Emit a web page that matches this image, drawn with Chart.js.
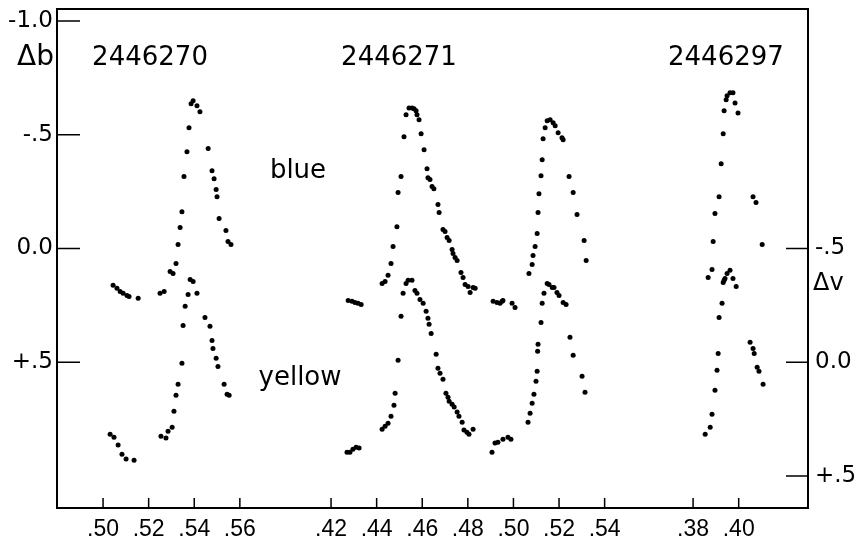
<!DOCTYPE html>
<html>
<head>
<meta charset="utf-8">
<script src="https://cdn.jsdelivr.net/npm/chart.js@4.4.1/dist/chart.umd.min.js"></script>
<style>
  html, body { margin: 0; padding: 0; background: #fff; }
  #wrap { width: 854px; height: 544px; position: relative; }
</style>
</head>
<body>
<div id="wrap"><canvas id="lightCurve"></canvas></div>
<script>
// nights (JD) and the phase ticks shown under each one
const nights = ['2446270', '2446271', '2446297'];
const nightTicks = [
    [0.50, 0.52, 0.54, 0.56],
    [0.42, 0.44, 0.46, 0.48, 0.50, 0.52, 0.54],
    [0.38, 0.40]
];
// shift that puts each night side by side on the broken x axis
const nightShift = [0, 0.18, 0.3788];

// left axis: delta b, right axis: delta v
const bTicks = [-1.0, -0.5, 0.0, 0.5];
const bTickLabels = ['-1.0', '-.5', '0.0', '+.5'];
const vTicks = [-0.5, 0.0, 0.5];
const vTickLabels = ['-.5', '0.0', '+.5'];

// night 2446270
const blue1Time = [0.5044, 0.5061, 0.5075, 0.5088, 0.5105, 0.5114, 0.5154, 0.5250, 0.5268, 0.5294, 0.5307,
    0.5320, 0.5329, 0.5338, 0.5346, 0.5355, 0.5368, 0.5377, 0.5386, 0.5395, 0.5412, 0.5425, 0.5461, 0.5478,
    0.5487, 0.5496, 0.5500, 0.5509, 0.5539, 0.5548, 0.5561];
const blue1Mag = [0.162, 0.175, 0.189, 0.197, 0.206, 0.211, 0.219, 0.197, 0.189, 0.101, 0.110,
    0.066, -0.018, -0.092, -0.162, -0.316, -0.425, -0.531, -0.636, -0.649, -0.627, -0.601, -0.439, -0.342,
    -0.307, -0.259, -0.228, -0.132, -0.079, -0.031, -0.018];
const yellow1Time = [0.5031, 0.5048, 0.5066, 0.5083, 0.5101, 0.5136, 0.5254, 0.5276, 0.5285, 0.5303, 0.5311,
    0.5320, 0.5329, 0.5346, 0.5351, 0.5360, 0.5373, 0.5382, 0.5395, 0.5412, 0.5447, 0.5469, 0.5478, 0.5482,
    0.5496, 0.5504, 0.5531, 0.5544, 0.5553];
const yellow1Mag = [0.316, 0.329, 0.364, 0.404, 0.425, 0.430, 0.325, 0.333, 0.303, 0.285, 0.215,
    0.145, 0.096, 0.004, -0.162, -0.246, -0.298, -0.364, -0.355, -0.303, -0.197, -0.158, -0.096, -0.061,
    -0.018, 0.018, 0.096, 0.140, 0.145];

// night 2446271
const blue2Time = [0.4275, 0.4292, 0.4305, 0.4318, 0.4332, 0.4424, 0.4437, 0.4450, 0.4463, 0.4472, 0.4489,
    0.4494, 0.4507, 0.4520, 0.4529, 0.4542, 0.4555, 0.4564, 0.4573, 0.4577, 0.4586, 0.4595, 0.4608, 0.4621,
    0.4625, 0.4634, 0.4643, 0.4651, 0.4669, 0.4674, 0.4691, 0.4700, 0.4709, 0.4718, 0.4731, 0.4735, 0.4744,
    0.4753, 0.4770, 0.4779, 0.4788, 0.4801, 0.4810, 0.4823, 0.4832, 0.4911, 0.4928, 0.4941, 0.4950, 0.4954,
    0.4994, 0.5007, 0.5068, 0.5082, 0.5086, 0.5095, 0.5104, 0.5108, 0.5112, 0.5121, 0.5126, 0.5130, 0.5139,
    0.5148, 0.5161, 0.5174, 0.5183, 0.5196, 0.5213, 0.5218, 0.5244, 0.5262, 0.5279, 0.5310, 0.5319];
const blue2Mag = [0.228, 0.232, 0.237, 0.241, 0.246, 0.154, 0.145, 0.118, 0.066, -0.009, -0.096,
    -0.246, -0.316, -0.491, -0.588, -0.618, -0.618, -0.614, -0.605, -0.588, -0.566, -0.504, -0.434, -0.351,
    -0.311, -0.303, -0.272, -0.263, -0.193, -0.158, -0.083, -0.075, -0.048, -0.035, 0.004, 0.022, 0.039,
    0.053, 0.105, 0.127, 0.158, 0.167, 0.193, 0.171, 0.175, 0.232, 0.237, 0.241, 0.232, 0.228,
    0.241, 0.259, 0.110, 0.070, 0.031, -0.009, -0.066, -0.158, -0.241, -0.320, -0.390, -0.482, -0.531,
    -0.561, -0.566, -0.553, -0.539, -0.509, -0.487, -0.478, -0.316, -0.246, -0.149, -0.035, 0.053];
const yellow2Time = [0.4270, 0.4283, 0.4296, 0.4310, 0.4323, 0.4424, 0.4437, 0.4450, 0.4463, 0.4476, 0.4481,
    0.4494, 0.4507, 0.4516, 0.4529, 0.4538, 0.4555, 0.4568, 0.4577, 0.4590, 0.4604, 0.4617, 0.4625, 0.4630,
    0.4639, 0.4661, 0.4669, 0.4678, 0.4691, 0.4704, 0.4713, 0.4718, 0.4731, 0.4740, 0.4753, 0.4761, 0.4775,
    0.4783, 0.4796, 0.4805, 0.4823, 0.4906, 0.4919, 0.4932, 0.4954, 0.4976, 0.4989, 0.5064, 0.5073, 0.5082,
    0.5090, 0.5099, 0.5104, 0.5106, 0.5108, 0.5121, 0.5126, 0.5134, 0.5148, 0.5156, 0.5170, 0.5178, 0.5191,
    0.5200, 0.5218, 0.5231, 0.5248, 0.5262, 0.5301, 0.5314];
const yellow2Mag = [0.395, 0.395, 0.382, 0.373, 0.377, 0.294, 0.281, 0.268, 0.237, 0.189, 0.136,
    -0.009, -0.202, -0.303, -0.346, -0.360, -0.360, -0.316, -0.303, -0.276, -0.259, -0.224, -0.193, -0.167,
    -0.127, -0.035, 0.026, 0.048, 0.075, 0.136, 0.154, 0.171, 0.184, 0.197, 0.219, 0.237, 0.263,
    0.298, 0.307, 0.316, 0.294, 0.395, 0.355, 0.351, 0.338, 0.329, 0.338, 0.263, 0.224, 0.180,
    0.140, 0.083, 0.039, -0.048, -0.079, -0.175, -0.259, -0.303, -0.346, -0.342, -0.329, -0.329, -0.307,
    -0.294, -0.263, -0.254, -0.110, -0.031, 0.061, 0.132];

// night 2446297
const blue3Time = [0.3866, 0.3883, 0.3888, 0.3896, 0.3914, 0.3923, 0.3932, 0.3936, 0.3945, 0.3949, 0.3962,
    0.3975, 0.3984, 0.3997, 0.4063, 0.4076, 0.4103];
const blue3Mag = [0.127, 0.092, -0.031, -0.154, -0.228, -0.373, -0.504, -0.605, -0.654, -0.671, -0.684,
    -0.684, -0.640, -0.596, -0.228, -0.202, -0.018];
const yellow3Time = [0.3853, 0.3875, 0.3883, 0.3896, 0.3905, 0.3910, 0.3914, 0.3927, 0.3932, 0.3936, 0.3940,
    0.3949, 0.3962, 0.3975, 0.3989, 0.4050, 0.4063, 0.4068, 0.4081, 0.4089, 0.4107];
const yellow3Mag = [0.316, 0.285, 0.228, 0.123, 0.035, -0.039, -0.197, -0.259, -0.351, -0.360, -0.368,
    -0.390, -0.404, -0.368, -0.333, -0.088, -0.061, -0.039, 0.022, 0.039, 0.096];

const blueTimes = [blue1Time, blue2Time, blue3Time];
const blueMags = [blue1Mag, blue2Mag, blue3Mag];
const yellowTimes = [yellow1Time, yellow2Time, yellow3Time];
const yellowMags = [yellow1Mag, yellow2Mag, yellow3Mag];

// text placed inside the plot, in axis units (x = phase on the broken axis)
const notes = [
    { text: nights[0], x: 0.5206, y: -0.838 },
    { text: nights[1], x: 0.6298, y: -0.838 },
    { text: nights[2], x: 0.7732, y: -0.838 },
    { text: 'blue', x: 0.5855, y: -0.338 },
    { text: 'yellow', x: 0.5864, y: 0.570 }
];

const FONT = '"DejaVu Sans", sans-serif';
const SMALL_FONT = '"Liberation Sans", Arial, sans-serif';

function toPoints(times, mags, shift) {
    return times.map((t, i) => ({ x: t + shift, y: mags[i] }));
}

const datasets = [];
nights.forEach((n, i) => {
    datasets.push({
        label: 'blue ' + n,
        data: toPoints(blueTimes[i], blueMags[i], nightShift[i]),
        yAxisID: 'yb'
    });
    datasets.push({
        label: 'yellow ' + n,
        data: toPoints(yellowTimes[i], yellowMags[i], nightShift[i]),
        yAxisID: 'yv'
    });
});

const xTickValues = [];
const xTickLabels = [];
nightTicks.forEach((ticks, i) => {
    ticks.forEach(t => {
        xTickValues.push(t + nightShift[i]);
        xTickLabels.push(t.toFixed(2).replace(/^0/, ''));
    });
});

// inward tick marks, frame and free text
const framePlugin = {
    id: 'frame',
    afterDraw(chart) {
        const ctx = chart.ctx;
        const a = chart.chartArea;
        const xs = chart.scales.x, yb = chart.scales.yb, yv = chart.scales.yv;
        ctx.save();
        ctx.strokeStyle = '#000';
        ctx.lineWidth = 2;
        ctx.strokeRect(a.left, a.top, a.right - a.left, a.bottom - a.top);
        ctx.lineWidth = 1.5;
        ctx.beginPath();
        bTicks.forEach(v => {
            const y = yb.getPixelForValue(v);
            ctx.moveTo(a.left, y); ctx.lineTo(a.left + 23, y);
        });
        vTicks.forEach(v => {
            const y = yv.getPixelForValue(v);
            ctx.moveTo(a.right, y); ctx.lineTo(a.right - 22, y);
        });
        xTickValues.forEach(v => {
            const x = xs.getPixelForValue(v);
            ctx.moveTo(x, a.bottom); ctx.lineTo(x, a.bottom - 10);
        });
        ctx.stroke();

        ctx.fillStyle = '#000';
        ctx.textBaseline = 'middle';
        ctx.font = '26px ' + FONT;
        ctx.textAlign = 'center';
        notes.forEach(n => {
            ctx.fillText(n.text, xs.getPixelForValue(n.x), yb.getPixelForValue(n.y));
        });
        ctx.font = '28px ' + FONT;
        ctx.textAlign = 'right';
        ctx.fillText('\u0394b', a.left - 3, yb.getPixelForValue(-0.838));
        ctx.font = '24px ' + FONT;
        ctx.textAlign = 'left';
        ctx.fillText('\u0394v', a.right + 5, yv.getPixelForValue(-0.346));
        ctx.restore();
    }
};

const tickFont = { family: FONT, size: 23 };

// y axes: fixed width, no extra room for the end labels
function fitY(width) {
    return axis => {
        axis.width = width;
        axis.paddingTop = 0;
        axis.paddingBottom = 0;
    };
}

new Chart(document.getElementById('lightCurve').getContext('2d'), {
    type: 'scatter',
    data: { datasets: datasets },
    options: {
        responsive: true,
        maintainAspectRatio: false,
        animation: false,
        layout: { autoPadding: false, padding: { top: 9, left: 0, right: 0, bottom: 0 } },
        elements: {
            point: { radius: 2.5, backgroundColor: '#000', borderWidth: 0, hoverRadius: 2.5 }
        },
        plugins: {
            legend: { display: false },
            title: { display: false },
            tooltip: { enabled: false }
        },
        scales: {
            x: {
                type: 'linear',
                min: 0.4798,
                max: 0.8092,
                grid: { display: false, drawTicks: false },
                border: { display: false },
                afterBuildTicks: axis => { axis.ticks = xTickValues.map(v => ({ value: v })); },
                afterFit: axis => { axis.height = 36; axis.paddingLeft = 0; axis.paddingRight = 0; },
                ticks: {
                    autoSkip: false,
                    maxRotation: 0,
                    padding: 8,
                    color: '#000',
                    font: { family: SMALL_FONT, size: 23 },
                    callback: (v, i) => xTickLabels[i]
                }
            },
            yb: {
                type: 'linear',
                position: 'left',
                reverse: true,
                min: -1.0526,
                max: 1.1404,
                grid: { display: false, drawTicks: false },
                border: { display: false },
                afterBuildTicks: axis => { axis.ticks = bTicks.map(v => ({ value: v })); },
                afterFit: fitY(57),
                ticks: {
                    padding: 4,
                    color: '#000',
                    font: tickFont,
                    callback: (v, i) => bTickLabels[i]
                }
            },
            yv: {
                type: 'linear',
                position: 'right',
                reverse: true,
                min: -1.5526,
                max: 0.6404,
                grid: { display: false, drawTicks: false },
                border: { display: false },
                afterBuildTicks: axis => { axis.ticks = vTicks.map(v => ({ value: v })); },
                afterFit: fitY(46),
                ticks: {
                    padding: 7,
                    color: '#000',
                    font: tickFont,
                    callback: (v, i) => vTickLabels[i]
                }
            }
        }
    },
    plugins: [framePlugin]
});
</script>
</body>
</html>
